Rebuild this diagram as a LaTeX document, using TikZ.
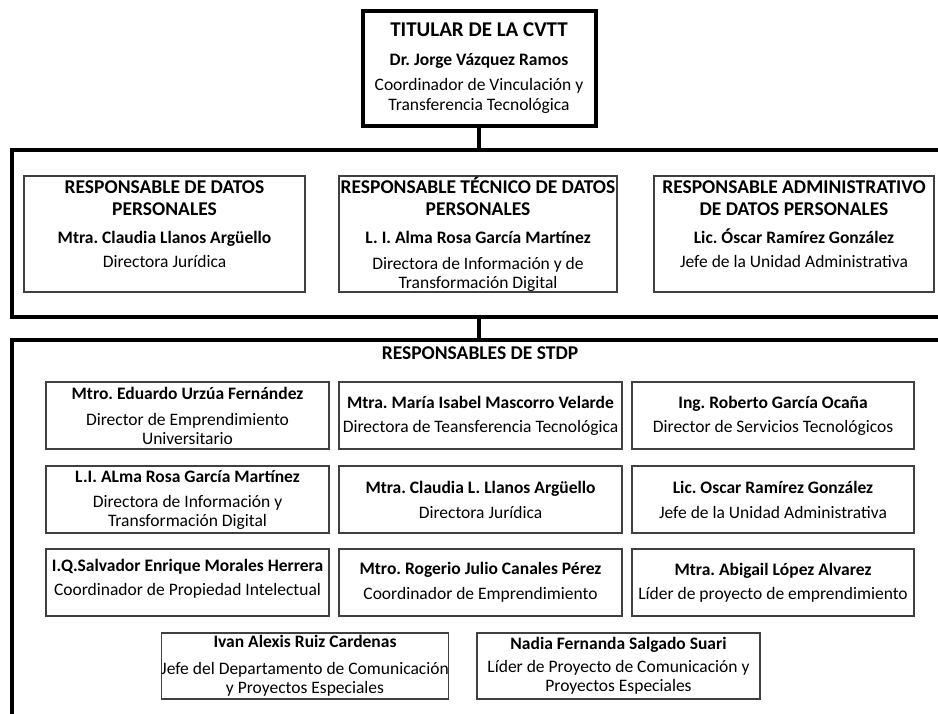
\documentclass[tikz,border=0pt]{standalone}
\usepackage{fontspec}
\setmainfont{Carlito}
\usepackage{tikz}
\tikzstyle{marco}=[draw=black, line width=4.5pt, shape=rectangle, inner sep=0pt]
\tikzstyle{titularnode}=[black, draw=black, line width=4pt, shape=rectangle, fill=white, align=center, inner sep=0pt, font=\fontsize{17.5}{19}\selectfont]
\tikzstyle{respnode}=[black, draw=black!75, line width=1.3pt, shape=rectangle, fill=white, align=center, inner sep=0pt, font=\fontsize{17.5}{19}\selectfont]
\tikzstyle{stdpnode}=[respnode, minimum width=283pt, minimum height=67pt]
\tikzstyle{enlace}=[draw=black, line width=4pt]
\newcommand{\cargo}[1]{{\fontsize{19.5}{21}\selectfont\bfseries #1}}

\begin{document}
\frenchspacing
\begin{tikzpicture}[x=1pt, y=-1pt]
\useasboundingbox (0,0) rectangle (938,713);
\clip (0,0) rectangle (938,713);

\node [titularnode, minimum width=233pt, minimum height=115pt] (titular) at (479,68.5) {{\fontsize{21}{23}\selectfont\bfseries TITULAR DE LA CVTT}\\[10pt] \textbf{Dr. Jorge Vázquez Ramos}\\[6pt] Coordinador de Vinculación y\\[1pt] Transferencia Tecnológica};

\node [marco, minimum width=948pt, minimum height=167pt] (marcoA) at (486,233.5) {};
\node [marco, minimum width=948pt, minimum height=420pt] (marcoB) at (486,550) {};

\node [respnode, minimum width=281pt, minimum height=116pt] (rdp) at (164.5,234) {\cargo{RESPONSABLE DE DATOS}\\[3pt] \cargo{PERSONALES}\\[9pt] \textbf{Mtra. Claudia Llanos Argüello}\\[5pt] Directora Jurídica\\ \mbox{}};
\node [respnode, minimum width=278pt, minimum height=116pt] (rtdp) at (478,234) {\cargo{RESPONSABLE TÉCNICO DE DATOS}\\[3pt] \cargo{PERSONALES}\\[9pt] \textbf{L. I. Alma Rosa García Martínez}\\[7pt] Directora de Información y de\\ Transformación Digital};
\node [respnode, minimum width=280pt, minimum height=116pt] (radp) at (794,234) {\cargo{RESPONSABLE ADMINISTRATIVO}\\[3pt] \cargo{DE DATOS PERSONALES}\\[9pt] \textbf{Lic. Óscar Ramírez González}\\[5pt] Jefe de la Unidad Administrativa\\ \mbox{}};

\node [black, font=\fontsize{19.5}{21}\selectfont\bfseries] (stdp) at (480,353) {RESPONSABLES DE STDP};

\node [stdpnode] (urzua) at (187.5,415.5) {\textbf{Mtro. Eduardo Urzúa Fernández}\\[7pt] Director de Emprendimiento\\ Universitario};
\node [stdpnode] (mascorro) at (480.5,415.5) {\textbf{Mtra. María Isabel Mascorro Velarde}\\[5pt] Directora de Teansferencia Tecnológica};
\node [stdpnode, minimum width=282pt] (garcia) at (773,415.5) {\textbf{Ing. Roberto García Ocaña}\\[5pt] Director de Servicios Tecnológicos};

\node [stdpnode] (alma) at (187.5,499.5) {\textbf{L.I. ALma Rosa García Martínez}\\[6pt] Directora de Información y\\ Transformación Digital};
\node [stdpnode] (llanos) at (480.5,499.5) {\textbf{Mtra. Claudia L. Llanos Argüello}\\[6pt] Directora Jurídica};
\node [stdpnode, minimum width=282pt] (ramirez) at (773,499.5) {\textbf{Lic. Oscar Ramírez González}\\[6pt] Jefe de la Unidad Administrativa};

\node [stdpnode] (morales) at (187.5,582.5) {\textbf{I.Q.Salvador Enrique Morales Herrera}\\[5pt] Coordinador de Propiedad Intelectual\\[-8pt] \mbox{}};
\node [stdpnode] (canales) at (480.5,582.5) {\textbf{Mtro. Rogerio Julio Canales Pérez}\\[6pt] Coordinador de Emprendimiento};
\node [stdpnode, minimum width=282pt] (lopez) at (773,582.5) {\textbf{Mtra. Abigail López Alvarez}\\[5pt] Líder de proyecto de emprendimiento};

\node [stdpnode, minimum width=282pt, minimum height=66pt] (ruiz) at (305,666) {\textbf{Ivan Alexis Ruiz Cardenas}\\[8pt] Jefe del Departamento de Comunicación\\ y Proyectos Especiales};
\node [stdpnode, minimum height=66pt] (salgado) at (618.5,666) {\textbf{Nadia Fernanda Salgado Suari}\\[4pt] Líder de Proyecto de Comunicación y\\ Proyectos Especiales};

\draw [enlace] (titular.south) -- (titular.south |- marcoA.north);
\draw [enlace] (titular.south |- marcoA.south) -- (titular.south |- marcoB.north);
\end{tikzpicture}
\end{document}
